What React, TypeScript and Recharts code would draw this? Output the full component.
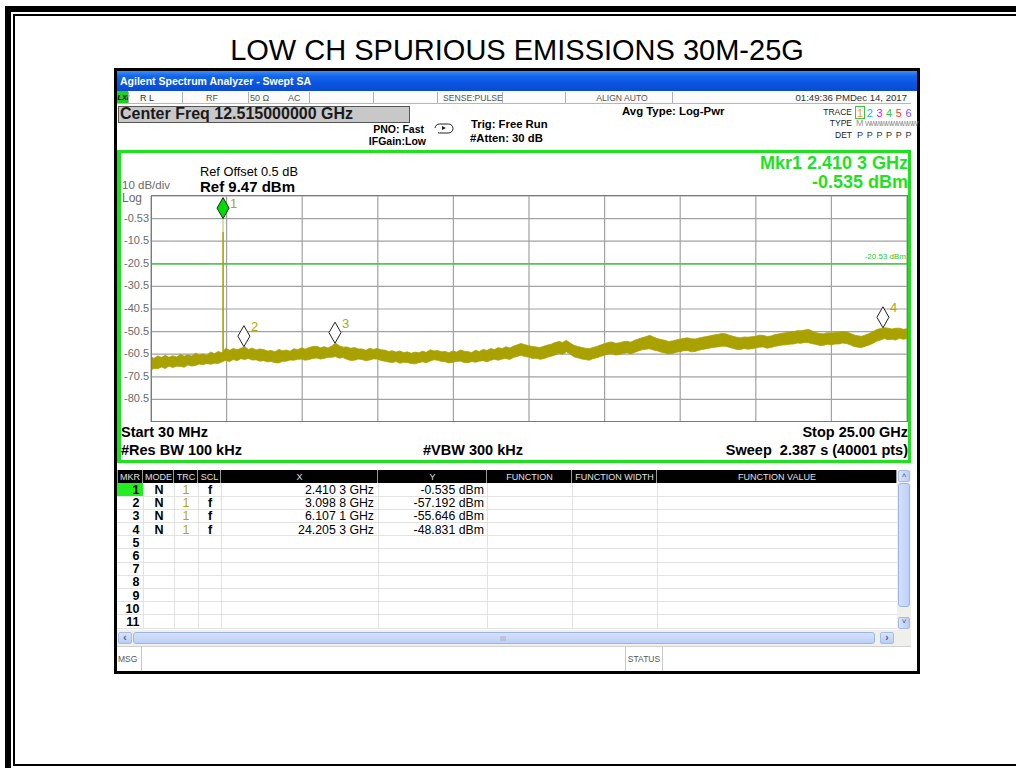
import React from 'react';
import { ComposedChart, Area, XAxis, YAxis, ReferenceLine, Scatter, CartesianGrid } from 'recharts';

// ---------- data ----------
const parse = (s: string) => s.trim().split(/\s+/).map(Number);

// sweep frequency points (GHz)
const freqGHz = parse(`
0.03 0.125 0.25 0.375 0.5 0.625 0.75 0.875
1 1.125 1.25 1.375 1.5 1.625 1.75 1.875
2 2.125 2.25 2.375 2.5 2.625 2.75 2.875
3 3.125 3.25 3.375 3.5 3.625 3.75 3.875
4 4.125 4.25 4.375 4.5 4.625 4.75 4.875
5 5.125 5.25 5.375 5.5 5.625 5.75 5.875
6 6.125 6.25 6.375 6.5 6.625 6.75 6.875
7 7.125 7.25 7.375 7.5 7.625 7.75 7.875
8 8.125 8.25 8.375 8.5 8.625 8.75 8.875
9 9.125 9.25 9.375 9.5 9.625 9.75 9.875
10 10.125 10.25 10.375 10.5 10.625 10.75 10.875
11 11.125 11.25 11.375 11.5 11.625 11.75 11.875
12 12.125 12.25 12.375 12.5 12.625 12.75 12.875
13 13.125 13.25 13.375 13.5 13.625 13.75 13.875
14 14.125 14.25 14.375 14.5 14.625 14.75 14.875
15 15.125 15.25 15.375 15.5 15.625 15.75 15.875
16 16.125 16.25 16.375 16.5 16.625 16.75 16.875
17 17.125 17.25 17.375 17.5 17.625 17.75 17.875
18 18.125 18.25 18.375 18.5 18.625 18.75 18.875
19 19.125 19.25 19.375 19.5 19.625 19.75 19.875
20 20.125 20.25 20.375 20.5 20.625 20.75 20.875
21 21.125 21.25 21.375 21.5 21.625 21.75 21.875
22 22.125 22.25 22.375 22.5 22.625 22.75 22.875
23 23.125 23.25 23.375 23.5 23.625 23.75 23.875
24 24.125 24.25 24.375 24.5 24.625 24.75 24.875
25`);

// upper edge of the noise trace (dBm)
const traceHi = parse(`
-61.6 -62.4 -61.3 -62.0 -61.0 -61.9 -61.2 -61.8
-60.6 -61.4 -60.8 -61.3 -60.1 -60.9 -60.4 -61.0
-59.6 -60.3 -59.3 -59.9 -57.9 -58.8 -58.0 -58.6
-57.9 -57.2 -58.4 -57.8 -58.7 -58.2 -58.5 -59.1
-58.9 -59.5 -58.4 -59.0 -58.7 -59.2 -58.1 -58.6
-57.7 -58.3 -57.6 -57.1 -57.0 -57.7 -57.2 -57.8
-56.9 -55.6 -56.8 -57.4 -57.3 -57.9 -57.6 -58.2
-58.2 -58.8 -57.9 -58.4 -58.0 -58.6 -58.7 -59.3
-59.0 -59.6 -59.1 -59.8 -59.5 -60.1 -59.6 -59.9
-59.2 -59.7 -58.6 -59.1 -58.9 -59.5 -59.3 -59.9
-59.1 -59.6 -58.7 -59.2 -59.4 -59.8 -58.8 -59.3
-58.4 -58.9 -58.0 -58.5 -57.6 -58.1 -57.2 -57.8
-57.0 -56.4 -55.8 -56.3 -56.7 -57.1 -57.3 -57.6
-57.0 -56.5 -56.1 -55.4 -54.9 -55.3 -54.4 -55.6
-56.6 -57.1 -57.5 -57.9 -58.1 -57.6 -57.1 -56.5
-55.9 -55.4 -55.1 -55.7 -55.5 -55.0 -54.8 -55.2
-54.4 -53.8 -53.2 -52.8 -52.2 -52.9 -53.6 -54.0
-54.4 -54.9 -54.7 -54.2 -53.9 -53.5 -53.3 -53.7
-53.8 -53.4 -53.0 -52.7 -52.4 -52.0 -51.8 -51.4
-51.5 -52.1 -52.6 -53.0 -53.3 -52.9 -53.0 -52.8
-52.6 -52.1 -52.2 -52.7 -52.5 -51.9 -51.6 -51.3
-51.0 -50.7 -50.6 -50.1 -50.2 -49.8 -49.6 -50.3
-51.0 -51.4 -51.5 -51.0 -51.2 -50.9 -50.8 -50.5
-50.7 -51.3 -52.0 -52.4 -52.6 -52.0 -51.4 -50.6
-49.6 -49.2 -48.8 -49.0 -49.4 -49.1 -49.0 -49.5
-49.3`);

// lower edge of the noise trace (dBm)
const traceLo = parse(`
-67.6 -66.8 -67.0 -66.2 -66.9 -65.8 -66.4 -65.9
-65.9 -66.3 -65.3 -65.8 -65.5 -64.9 -65.2 -64.6
-65.0 -64.5 -64.7 -63.9 -63.3 -63.8 -62.9 -63.4
-62.5 -62.9 -62.4 -63.1 -63.0 -63.6 -63.4 -63.9
-63.8 -64.3 -64.4 -63.7 -63.6 -63.1 -63.2 -62.8
-62.7 -63.2 -62.9 -62.4 -62.2 -62.7 -62.4 -61.9
-61.9 -61.6 -62.3 -62.0 -62.8 -63.3 -63.2 -62.7
-62.9 -63.4 -63.1 -62.6 -62.7 -63.3 -63.6 -64.0
-64.2 -63.8 -64.5 -64.1 -64.2 -64.7 -64.8 -64.3
-63.9 -64.3 -63.5 -63.0 -63.2 -63.8 -63.9 -64.4
-64.1 -63.7 -63.6 -64.2 -64.3 -63.8 -64.1 -63.6
-63.4 -63.9 -63.2 -62.8 -63.2 -62.7 -62.4 -62.9
-62.0 -61.5 -61.0 -61.6 -61.8 -62.4 -62.3 -62.8
-62.5 -61.9 -61.4 -60.9 -60.1 -60.6 -59.5 -60.4
-61.7 -62.1 -62.6 -62.9 -63.2 -62.5 -62.1 -61.6
-61.0 -60.5 -60.3 -60.9 -60.7 -60.2 -59.9 -60.4
-59.8 -59.1 -58.6 -58.3 -58.1 -58.7 -59.0 -59.6
-60.0 -60.4 -60.2 -59.7 -59.4 -59.0 -58.9 -59.5
-59.3 -58.8 -58.4 -58.1 -57.8 -57.5 -57.3 -57.0
-57.0 -57.5 -57.9 -58.4 -58.5 -58.0 -58.3 -58.1
-57.8 -57.4 -57.3 -57.9 -57.6 -57.1 -56.8 -56.5
-56.4 -56.1 -56.0 -55.6 -55.7 -55.3 -55.5 -55.9
-56.2 -56.7 -56.6 -56.1 -56.4 -56.0 -56.0 -55.6
-55.8 -56.4 -57.1 -57.4 -57.6 -57.0 -56.5 -55.7
-54.8 -54.3 -53.6 -54.1 -53.9 -54.3 -53.5 -53.9
-53.6`);

// carrier (marker 1) spike
const carrierFreq = 2.4103;
const carrierTop = -0.535;
const carrierPaleEnd = -6.5;
const carrierBase = -61.5;

const markerNo = [1, 2, 3, 4];
const markerFreq = [2.4103, 3.0988, 6.1071, 24.2053];
const markerAmp = [-0.535, -57.192, -55.646, -48.831];
const markerXText = ['2.410 3 GHz', '3.098 8 GHz', '6.107 1 GHz', '24.205 3 GHz'];
const markerYText = ['-0.535 dBm', '-57.192 dBm', '-55.646 dBm', '-48.831 dBm'];

const yTicks = [9.47, -0.53, -10.53, -20.53, -30.53, -40.53, -50.53, -60.53, -70.53, -80.53, -90.53];
const yTickLabels = ['', '-0.53', '-10.5', '-20.5', '-30.5', '-40.5', '-50.5', '-60.5', '-70.5', '-80.5', ''];
const xTicks = [0.03, 2.527, 5.024, 7.521, 10.018, 12.515, 15.012, 17.509, 20.006, 22.503, 25.0];
const displayLine = -20.53;

const tableHeaders = ['MKR', 'MODE', 'TRC', 'SCL', 'X', 'Y', 'FUNCTION', 'FUNCTION WIDTH', 'FUNCTION VALUE'];
const tableRows = [1, 2, 3, 4, 5, 6, 7, 8, 9, 10, 11];

const traceData = freqGHz.map((f, i) => ({ f, band: [traceLo[i], traceHi[i]] }));
const markerData = markerNo.map((n, i) => ({ n, f: markerFreq[i], v: markerAmp[i] }));

// ---------- styling ----------
const SANS = '"Liberation Sans", Arial, sans-serif';
const NARROW = '"Liberation Sans Narrow", "Liberation Sans", Arial, sans-serif';
const TRACE = '#a9a100';
const GREEN = '#1fe21f';

const T = ({ x, y, children, size = 11, weight = 'normal', color = '#000', anchor = 'start', family = SANS, style = {} }: any) => {
  const tx = anchor === 'start' ? '0' : anchor === 'middle' ? '-50%' : '-100%';
  return (
    <div style={{ position: 'absolute', left: x, top: y, transform: `translate(${tx},-50%)`, fontSize: size, fontWeight: weight, color, fontFamily: family, whiteSpace: 'nowrap', lineHeight: `${size}px`, ...style }}>
      {children}
    </div>
  );
};

const Box = ({ x, y, w, h, style = {}, children }: any) => (
  <div style={{ position: 'absolute', left: x, top: y, width: w, height: h, boxSizing: 'border-box', ...style }}>{children}</div>
);

const MarkerShape = (props: any) => {
  const { cx, cy, payload } = props;
  const w = 6, h = 10.5;
  const d = `M${cx},${cy} L${cx + w},${cy - h} L${cx},${cy - 2 * h} L${cx - w},${cy - h} Z`;
  const ly = Math.max(cy - 20, 7);
  return (
    <g>
      <path d={d} fill={payload.n === 1 ? '#00dd00' : '#ffffff'} stroke="#222" strokeWidth={1} />
      <text x={cx + 7} y={ly} fill="#b3a800" fontSize={13} fontFamily={SANS} dominantBaseline="central">{payload.n}</text>
    </g>
  );
};

const YTick = (props: any) => {
  const { y, payload } = props;
  const idx = yTicks.indexOf(payload.value);
  const label = idx >= 0 ? yTickLabels[idx] : '';
  return (
    <text x={2} y={y - 1} fill="#6a6a6a" fontSize={11} fontFamily={SANS} dominantBaseline="central">{label}</text>
  );
};

const colX = [117, 143, 174, 198, 221, 378, 487, 572, 657, 897];
const statusSeps = [128, 182, 248, 309, 373, 437, 502, 565, 672];
const traceColors = ['#f0a020', '#10b8e8', '#e020d8', '#30c830', '#ff3838', '#7458ff'];

export default function App() {
  const rowTop = 483;
  const rowH = 13.2;
  return (
    <div style={{ position: 'absolute', left: 0, top: 0, width: 1016, height: 768, background: '#fff', overflow: 'hidden', fontFamily: SANS }}>
      {/* outer frames */}
      <Box x={5} y={6} w={1200} h={900} style={{ border: '6px solid #000' }} />
      <Box x={13} y={14} w={1200} h={752} style={{ border: '2px solid #000' }} />

      {/* title */}
      <T x={517} y={50} size={29} anchor="middle">LOW CH SPURIOUS EMISSIONS 30M-25G</T>

      {/* screenshot frame */}
      <Box x={114} y={68} w={806} h={606} style={{ border: '3px solid #000', background: '#fff' }} />

      {/* title bar */}
      <Box x={117} y={71} w={800} h={20} style={{ background: 'linear-gradient(#3f8cf8 0%, #1466ee 25%, #0a55e0 60%, #0a4ad0 100%)' }} />
      <T x={120} y={81} size={10.5} weight="bold" color="#fff">Agilent Spectrum Analyzer - Swept SA</T>

      {/* status row */}
      <Box x={117} y={91} w={794} h={13} style={{ background: '#fbfbfb', borderBottom: '1px solid #b8b8b8' }} />
      <Box x={117} y={91} w={11} h={12} style={{ background: '#1fd01f' }} />
      <T x={117.5} y={97.5} size={7.5} weight="bold" color="#000" style={{ fontStyle: 'italic' }}>LXI</T>
      {statusSeps.map((sx) => (
        <Box key={sx} x={sx} y={92} w={1} h={11} style={{ background: '#b0b0b0' }} />
      ))}
      <T x={140} y={97.5} size={9} color="#333">R L</T>
      <T x={212} y={97.5} size={9} color="#555" anchor="middle">RF</T>
      <T x={250} y={97.5} size={9} color="#555">50 Ω</T>
      <T x={288} y={97.5} size={9} color="#555">AC</T>
      <T x={443} y={97.5} size={8.6} color="#555">SENSE:PULSE</T>
      <T x={622} y={97.5} size={8.6} color="#555" anchor="middle">ALIGN AUTO</T>
      <T x={907} y={97.5} size={9.6} color="#333" anchor="end">01:49:36 PMDec 14, 2017</T>

      {/* center freq */}
      <Box x={118} y={106} w={292} h={17} style={{ background: '#c8c8c8', border: '1px solid #555' }} />
      <T x={120} y={114} size={16} weight="bold" color="#1a1a1a">Center Freq 12.515000000 GHz</T>

      <T x={424} y={129} size={10.5} weight="bold" anchor="end">PNO: Fast</T>
      <T x={426} y={141} size={10.5} weight="bold" anchor="end">IFGain:Low</T>
      <svg style={{ position: 'absolute', left: 434, top: 123 }} width={22} height={12}>
        <rect x={1} y={1} width={18} height={9} rx={4.5} fill="#fff" stroke="#222" strokeWidth={1} />
        <path d="M8,7 L12,5 L8,3 Z" fill="#222" />
        <rect x={0} y={5} width={4} height={6} fill="#fff" />
      </svg>
      <T x={471} y={125} size={11.3} weight="bold">Trig: Free Run</T>
      <T x={470} y={138.5} size={11.3} weight="bold">#Atten: 30 dB</T>
      <T x={622} y={112} size={11.4} weight="bold">Avg Type: Log-Pwr</T>

      <T x={852} y={111.5} size={8.5} color="#222" anchor="end">TRACE</T>
      <T x={852} y={123} size={8.5} color="#222" anchor="end">TYPE</T>
      <T x={852} y={135} size={8.5} color="#222" anchor="end">DET</T>
      <Box x={854.5} y={106} w={10} h={13} style={{ border: '1px solid #3ac83a' }} />
      {traceColors.map((c, i) => (
        <T key={i} x={857 + i * 9.7} y={112.5} size={11} color={c}>{String(i + 1)}</T>
      ))}
      <T x={856} y={123} size={9} color="#999">M</T>
      <T x={865} y={122.5} size={7} color="#888" style={{ letterSpacing: -1.4 }}>WWWWWWWWWW</T>
      {traceColors.map((c, i) => (
        <T key={'p' + i} x={857 + i * 9.7} y={135} size={9} color="#333">P</T>
      ))}

      {/* green display frame */}
      <Box x={117} y={150} w={794} h={313} style={{ borderTop: `3px solid ${GREEN}`, borderBottom: `3px solid ${GREEN}`, borderLeft: `4px solid ${GREEN}`, borderRight: `3px solid ${GREEN}` }} />

      <T x={908} y={163} size={18} weight="bold" color={GREEN} anchor="end">Mkr1 2.410 3 GHz</T>
      <T x={908} y={182} size={18} weight="bold" color={GREEN} anchor="end">-0.535 dBm</T>

      <T x={200} y={172} size={12.8}>Ref Offset 0.5 dB</T>
      <T x={200} y={186} size={15} weight="bold">Ref 9.47 dBm</T>
      <T x={122} y={185.5} size={11.5} color="#6a6a6a">10 dB/div</T>
      <T x={122} y={198} size={12} color="#6a6a6a">Log</T>

      {/* chart */}
      <div style={{ position: 'absolute', left: 122, top: 196 }}>
        <ComposedChart width={785} height={226} data={traceData} margin={{ top: 0, right: 0, bottom: 0, left: 0 }}>
          <CartesianGrid stroke="#a2a2a2" strokeWidth={1.2} />
          <XAxis type="number" dataKey="f" domain={[0.03, 25]} ticks={xTicks} hide />
          <YAxis type="number" domain={[-90.53, 9.47]} ticks={yTicks} width={29} axisLine={false} tickLine={false} tick={<YTick />} interval={0} />
          <ReferenceLine y={displayLine} stroke="#2cd22c" strokeWidth={1.3} />
          <Area type="linear" dataKey="band" stroke={TRACE} strokeWidth={0.8} fill={TRACE} fillOpacity={1} isAnimationActive={false} dot={false} activeDot={false} />
          <ReferenceLine segment={[{ x: carrierFreq, y: carrierBase }, { x: carrierFreq, y: carrierPaleEnd }]} stroke={TRACE} strokeWidth={1.6} />
          <ReferenceLine segment={[{ x: carrierFreq, y: carrierPaleEnd }, { x: carrierFreq, y: carrierTop }]} stroke="#d9d49a" strokeWidth={1.6} />
          <Scatter data={markerData} dataKey="v" shape={<MarkerShape />} isAnimationActive={false} />
        </ComposedChart>
      </div>
      <Box x={151} y={195} w={757} h={227} style={{ border: '1.5px solid #7a7a7a', pointerEvents: 'none' }} />
      <T x={906} y={257} size={8} color="#2cc82c" anchor="end">-20.53 dBm</T>

      <T x={121} y={432} size={14.5} weight="bold">Start 30 MHz</T>
      <T x={121} y={449.5} size={14.5} weight="bold">#Res BW  100 kHz</T>
      <T x={423} y={449.5} size={14.5} weight="bold">#VBW 300 kHz</T>
      <T x={908} y={432} size={14.5} weight="bold" anchor="end">Stop 25.00 GHz</T>
      <T x={908} y={449.5} size={14.5} weight="bold" anchor="end">Sweep&nbsp;&nbsp;2.387 s (40001 pts)</T>

      {/* marker table */}
      <Box x={117} y={470} w={780} h={13} style={{ background: '#000' }} />
      {tableHeaders.map((h, i) => (
        <React.Fragment key={h}>
          <Box x={colX[i]} y={470} w={colX[i + 1] - colX[i]} h={13} style={{ borderRight: '1px solid #9a9a9a', borderLeft: i === 0 ? '1px solid #9a9a9a' : 'none' }} />
          <T x={(colX[i] + colX[i + 1]) / 2} y={476.5} size={9} family={NARROW} color="#e0e0e0" anchor="middle">{h}</T>
        </React.Fragment>
      ))}
      {tableRows.map((r, ri) => {
        const y0 = rowTop + ri * rowH;
        const m = ri < markerNo.length;
        return (
          <React.Fragment key={r}>
            {ri === 0 && <Box x={117} y={y0} w={26} h={rowH} style={{ background: '#22ee22' }} />}
            <Box x={117} y={y0} w={780} h={rowH + 0.5} style={{ borderBottom: '1px solid #e2e2e2' }} />
            {colX.slice(1, -1).map((cx) => (
              <Box key={cx} x={cx} y={y0} w={1} h={rowH} style={{ background: '#e2e2e2' }} />
            ))}
            <T x={139.5} y={y0 + 7} size={12.5} weight="bold" anchor="end">{String(r)}</T>
            {m && <T x={159} y={y0 + 7} size={12.5} weight="bold" anchor="middle">N</T>}
            {m && <T x={186} y={y0 + 7} size={12.5} color="#b3a800" anchor="middle">1</T>}
            {m && <T x={210} y={y0 + 7} size={12.5} weight="bold" anchor="middle">f</T>}
            {m && <T x={374} y={y0 + 7} size={12.3} anchor="end">{markerXText[ri]}</T>}
            {m && <T x={484} y={y0 + 7} size={12.3} anchor="end">{markerYText[ri]}</T>}
          </React.Fragment>
        );
      })}

      {/* vertical scrollbar */}
      <Box x={897} y={470} w={14} h={161} style={{ background: '#f0f0ea' }} />
      <Box x={898} y={470} w={12} h={12} style={{ background: 'linear-gradient(90deg,#d8e4fc,#b8ccf4)', border: '1px solid #a8bce8', borderRadius: 2 }} />
      <T x={904} y={476} size={8} color="#4a5a8a" anchor="middle">˄</T>
      <Box x={898} y={483} w={12} h={124} style={{ background: 'linear-gradient(90deg,#d4e0fc,#bcd0f6)', border: '1px solid #9fb4e6', borderRadius: 3 }} />
      <Box x={898} y={617} w={12} h={12} style={{ background: 'linear-gradient(90deg,#d8e4fc,#b8ccf4)', border: '1px solid #a8bce8', borderRadius: 2 }} />
      <T x={904} y={622} size={8} color="#4a5a8a" anchor="middle">˅</T>

      {/* horizontal scrollbar */}
      <Box x={117} y={630} w={794} h={16} style={{ background: '#f0f0ea' }} />
      <Box x={118} y={632} w={14} h={12} style={{ background: 'linear-gradient(#d8e4fc,#b8ccf4)', border: '1px solid #a8bce8', borderRadius: 2 }} />
      <T x={125} y={638} size={10} weight="bold" color="#4a5a8a" anchor="middle">‹</T>
      <Box x={133} y={632} w={742} h={12} style={{ background: 'linear-gradient(#d6e2fc,#bcd0f6)', border: '1px solid #9fb4e6', borderRadius: 3 }} />
      <T x={503} y={638} size={7} color="#8aa0d8" anchor="middle">III</T>
      <Box x={880} y={632} w={14} h={12} style={{ background: 'linear-gradient(#d8e4fc,#b8ccf4)', border: '1px solid #a8bce8', borderRadius: 2 }} />
      <T x={887} y={638} size={10} weight="bold" color="#4a5a8a" anchor="middle">›</T>

      {/* message bar */}
      <Box x={117} y={646} w={794} h={25} style={{ background: '#fff', borderTop: '1px solid #d0d0d0' }} />
      <Box x={141} y={647} w={1} h={24} style={{ background: '#c8c8c8' }} />
      <T x={118} y={659} size={8.5} color="#555">MSG</T>
      <Box x={625} y={647} w={1} h={24} style={{ background: '#c8c8c8' }} />
      <Box x={662} y={647} w={1} h={24} style={{ background: '#c8c8c8' }} />
      <T x={644} y={659} size={8.5} color="#555" anchor="middle">STATUS</T>
    </div>
  );
}
